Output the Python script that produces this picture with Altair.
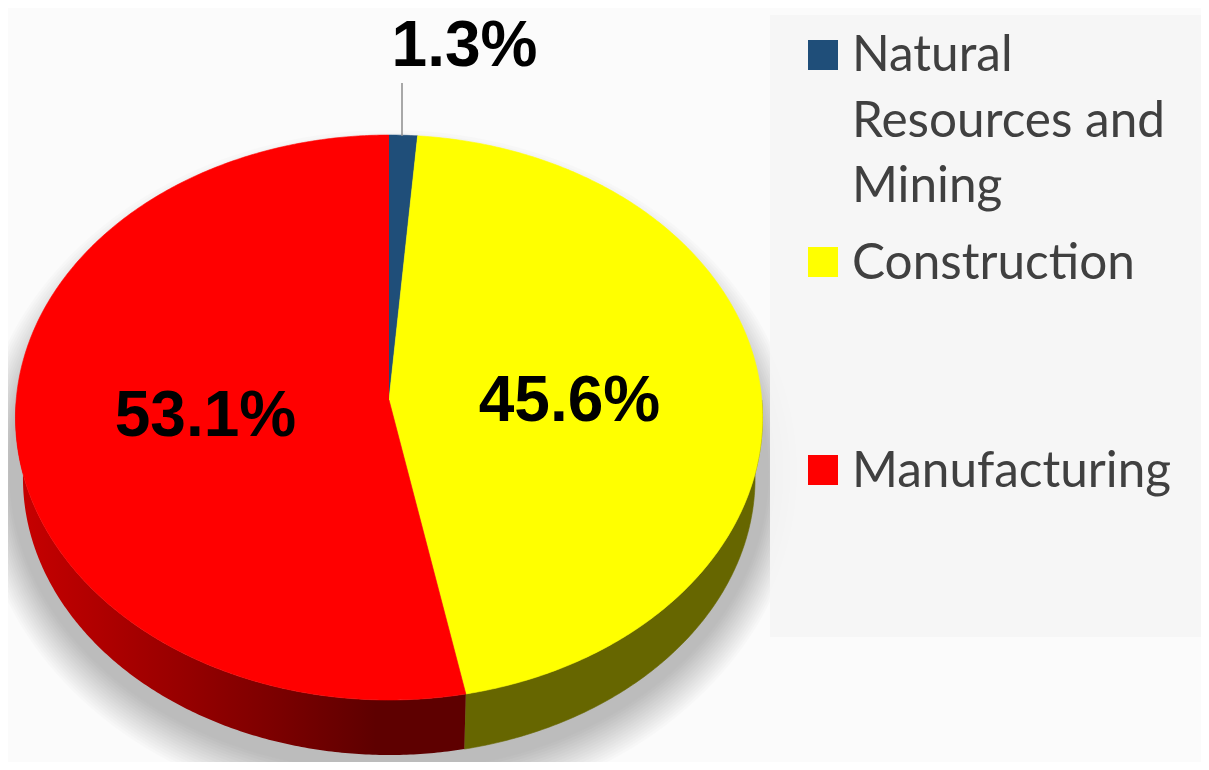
import numpy as np
import pandas as pd
import altair as alt

categories = ["Natural Resources and Mining", "Construction", "Manufacturing"]
values = [1.3, 45.6, 53.1]
labels = ["1.3%", "45.6%", "53.1%"]
colors = ["#1f4e79", "#ffff00", "#ff0000"]
legend_lines = [["Natural", "Resources and", "Mining"], ["Construction"], ["Manufacturing"]]

# Scene: a tilted disc, in picture pixels
CX, CY, BX, BY, TILT = 389.0, 400.0, 372.8, 281.4, 0.062
RIM_SCALE, RIM_DROP = 0.98, 61.0
W, H = 1193, 754
xs = alt.Scale(domain=[8, 8 + W], nice=False, zero=False)
ys = alt.Scale(domain=[8 + H, 8], nice=False, zero=False)


def rim(phi_deg, scale=1.0, drop=0.0):
    p = np.radians(np.asarray(phi_deg, dtype=float))
    u, v = np.sin(p), np.cos(p)
    d = 1 + TILT * v
    return CX + scale * BX * u / d, CY + drop - scale * BY * v / d


def arc_range(a, b):
    return np.linspace(a, b, max(int(abs(b - a) * 2), 2))


def wedge(a, b):
    x, y = rim(arc_range(a, b))
    return pd.DataFrame({"x": np.r_[CX, x], "y": np.r_[CY, y], "i": range(len(x) + 1)})


def wall(a, b):
    t = arc_range(a, b)
    x1, y1 = rim(t)
    x2, y2 = rim(t[::-1], RIM_SCALE, RIM_DROP)
    return pd.DataFrame({"x": np.r_[x1, x2], "y": np.r_[y1, y2], "i": range(2 * len(t))})


def shape(df, fill, stroke=None, **kw):
    return alt.Chart(df).mark_line(
        fill=fill, stroke=stroke or "transparent", strokeWidth=0.6 if stroke else 0, clip=True, **kw
    ).encode(
        x=alt.X("x:Q", scale=xs, axis=None),
        y=alt.Y("y:Q", scale=ys, axis=None),
        order=alt.Order("i:Q"),
    )


edges = 360 * np.cumsum([0] + values) / sum(values)

# soft shadow under the disc
shadow_frames = []
for k, f in enumerate(np.linspace(0, 1, 16)):
    t = np.radians(np.arange(0, 360, 2))
    shadow_frames.append(pd.DataFrame({
        "x": CX + (380 + 32 * f) * np.sin(t),
        "y": 472 + (300 + 42 * f) * np.cos(t),
        "i": np.arange(len(t)), "k": k,
    }))
shadow = shape(pd.concat(shadow_frames), "#000000", fillOpacity=0.014).encode(detail="k:N")

# side walls
wall_yellow = shape(wall(90, edges[2]), "#666600", "#666600")
red_gradient = alt.LinearGradient(
    gradient="linear", x1=0, x2=1, y1=0, y2=0,
    stops=[alt.GradientStop(offset=0, color="#c80000"),
           alt.GradientStop(offset=0.8, color="#5e0000"),
           alt.GradientStop(offset=1, color="#5e0000")],
)
wall_red = shape(wall(edges[2], 270), red_gradient)

# top surface
tops = [shape(wedge(edges[i], edges[i + 1]), colors[i], colors[i]) for i in range(3)]

# legend panel
panel = alt.Chart(pd.DataFrame({"x": [770], "x2": [8 + W], "y": [15], "y2": [637]})).mark_rect(
    color="#f5f5f5", opacity=0.93
).encode(x=alt.X("x:Q", scale=xs, axis=None), x2="x2:Q", y=alt.Y("y:Q", scale=ys, axis=None), y2="y2:Q")

# leader line
leader = alt.Chart(pd.DataFrame({"x": [402], "y": [83], "y2": [136]})).mark_rule(
    color="#8c8c8c", strokeWidth=1.5
).encode(x=alt.X("x:Q", scale=xs, axis=None), y=alt.Y("y:Q", scale=ys, axis=None), y2="y2:Q")

# data labels
label_x = [464.5, 569.5, 205.5]
label_y = [66, 421, 436]
label_df = pd.DataFrame({"t": labels, "x": label_x, "y": label_y})
data_labels = alt.Chart(label_df).mark_text(
    font="Liberation Sans", fontWeight="bold", fontSize=64, color="#000000", align="center", baseline="alphabetic"
).encode(x=alt.X("x:Q", scale=xs, axis=None), y=alt.Y("y:Q", scale=ys, axis=None), text="t:N")

# legend
sym_y = [55, 262, 470]
first_base = [71, 278.5, 487]
LINE_STEP = 65.5
sym_df = pd.DataFrame({"c": categories, "x": [823] * 3, "y": sym_y})
symbols = alt.Chart(sym_df).mark_square(size=900, opacity=1, filled=True).encode(
    x=alt.X("x:Q", scale=xs, axis=None), y=alt.Y("y:Q", scale=ys, axis=None),
    color=alt.Color("c:N", scale=alt.Scale(domain=categories, range=colors), legend=None),
)
rows = []
for base, lines in zip(first_base, legend_lines):
    for n, line in enumerate(lines):
        rows.append({"t": line, "x": 852, "y": base + n * LINE_STEP})
legend_text = alt.Chart(pd.DataFrame(rows)).mark_text(
    font="Lato", fontSize=49.5, color="#404040", align="left", baseline="alphabetic"
).encode(x=alt.X("x:Q", scale=xs, axis=None), y=alt.Y("y:Q", scale=ys, axis=None), text="t:N")

chart = alt.layer(
    shadow, panel, wall_yellow, wall_red, *tops, leader, data_labels, symbols, legend_text
).properties(
    width=W, height=H, padding=0, background="#fbfbfb", autosize=alt.AutoSizeParams(type="none")
).configure_view(stroke=None)

chart.save("out.html", embed_options={"renderer": "svg", "actions": False})
